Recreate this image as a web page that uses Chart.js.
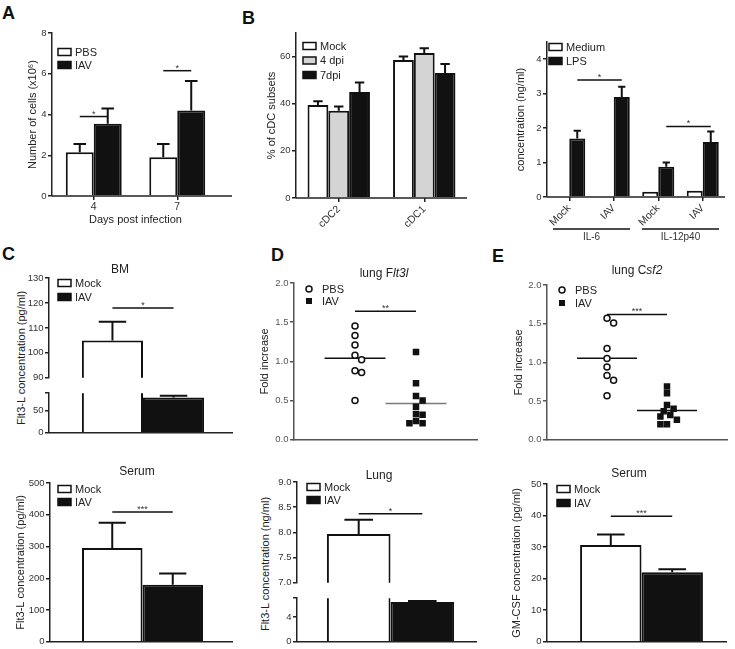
<!DOCTYPE html>
<html>
<head>
<meta charset="utf-8">
<script src="https://cdn.jsdelivr.net/npm/chart.js@4"></script>
<style>
  html, body { margin: 0; padding: 0; background: #fff; }
  body { position: relative; width: 735px; height: 649px; overflow: hidden; font-family: 'Liberation Sans', Arial, sans-serif; }
  canvas { position: absolute; }
  .tag { position: absolute; font-size: 18px; font-weight: bold; line-height: 18px; color: #111; }
  .vt { position: absolute; transform: translate(-50%, -50%) rotate(-90deg); white-space: nowrap; font-size: 11px; color: #222; }
</style>
</head>
<body>
<div class="tag" style="left:2px;top:4px">A</div>
<div class="tag" style="left:242px;top:9px">B</div>
<div class="tag" style="left:2px;top:245px">C</div>
<div class="tag" style="left:271px;top:246px">D</div>
<div class="tag" style="left:492px;top:247px">E</div>
<div class="vt" style="left:21px;top:358px">Flt3-L concentration (pg/ml)</div>
<div class="vt" style="left:265px;top:564px">Flt3-L concentration (ng/ml)</div>

<script>
// A: cell numbers
const daysA = ['4', '7'];
const pbsA = [2.15, 1.9];
const pbsErrA = [0.4, 0.65];
const iavA = [3.55, 4.2];
const iavErrA = [0.75, 1.45];
const ticksA = [0, 2, 4, 6, 8];

// B: cDC subsets
const subsetsB = ['cDC2', 'cDC1'];
const mockB = [39.5, 58.5];
const mockErrB = [1.5, 1.5];
const dpi4B = [37, 61.5];
const dpi4ErrB = [1.8, 2];
const dpi7B = [45, 53];
const dpi7ErrB = [4, 3.8];
const ticksBl = [0, 20, 40, 60];

// B: cytokines
const stimB = ['Mock', 'IAV', 'Mock', 'IAV'];
const cytokinesB = ['IL-6', 'IL-12p40'];
const mediumB = [0.02, 0.02, 0.15, 0.18];
const lpsB = [1.7, 2.9, 0.88, 1.6];
const lpsErrB = [0.22, 0.3, 0.12, 0.3];
const ticksBr = [0, 1, 2, 3, 4];

// C: Flt3-L BM and serum
const mockBM = [105];
const mockBMErr = [7.5];
const iavBM = [80];
const iavBMErr = [4];
const ticksBMUp = [90, 100, 110, 120, 130];
const ticksBMLow = [0, 50, 90];
const mockSerumF = [295];
const mockSerumFErr = [80];
const iavSerumF = [180];
const iavSerumFErr = [35];
const ticksSerumF = [0, 100, 200, 300, 400, 500];

// D: lung Flt3l mRNA and protein
const pbsFlt3l = [1.45, 1.33, 1.21, 1.08, 1.02, 0.88, 0.86, 0.50];
const iavFlt3l = [1.12, 0.72, 0.56, 0.50, 0.42, 0.33, 0.32, 0.24, 0.21, 0.21];
const ticksFold = [0, 0.5, 1, 1.5, 2];
const mockLung = [7.97];
const mockLungErr = [0.28];
const iavLung = [6.4];
const iavLungErr = [0.15];
const ticksLungUp = [7, 7.5, 8, 8.5, 9];
const ticksLungLow = [0, 4, 7];

// E: lung Csf2 mRNA and serum GM-CSF
const pbsCsf2 = [1.57, 1.51, 1.18, 1.05, 0.94, 0.83, 0.77, 0.57];
const iavCsf2 = [0.69, 0.60, 0.45, 0.40, 0.37, 0.32, 0.30, 0.26, 0.20, 0.20];
const mockGM = [30.7];
const mockGMErr = [3.3];
const iavGM = [22.0];
const iavGMErr = [1.0];
const ticksGM = [0, 10, 20, 30, 40, 50];

const FONT = "'Liberation Sans', Arial, sans-serif";
const BLACK = '#111';
const AXIS = '#222';

Chart.defaults.font.family = FONT;
Chart.defaults.font.size = 10;
Chart.defaults.color = '#333';
Chart.defaults.animation = false;
Chart.defaults.events = [];
Chart.defaults.plugins.legend.display = false;
Chart.defaults.plugins.tooltip.enabled = false;

// everything the library has no built-in for: error bars, stars, legend inside, titles
function decoPlugin(d, bl, bt) {
  return {
    id: 'deco',
    afterDatasetsDraw(chart) {
      const { ctx, chartArea: a } = chart;
      const xs = chart.scales.x, ys = chart.scales.y;
      ctx.save();

      if (d.xEnd) {
        ctx.strokeStyle = d.axisColor || AXIS;
        ctx.lineWidth = 1.5;
        ctx.beginPath();
        ctx.moveTo(a.left, a.bottom);
        ctx.lineTo(d.xEnd - bl, a.bottom);
        ctx.stroke();
      }

      ctx.save();
      ctx.beginPath();
      ctx.rect(a.left, a.top - 1, a.width, a.height + 1);
      ctx.clip();
      ctx.strokeStyle = BLACK;
      ctx.lineWidth = 2;
      chart.data.datasets.forEach((ds, di) => {
        if (!ds.errors) return;
        chart.getDatasetMeta(di).data.forEach((el, i) => {
          const e = ds.errors[i];
          if (!e) return;
          const top = ys.getPixelForValue(ds.data[i] + e);
          const half = el.width * 0.225;
          ctx.beginPath();
          ctx.moveTo(el.x, el.y);
          ctx.lineTo(el.x, top);
          ctx.moveTo(el.x - half, top);
          ctx.lineTo(el.x + half, top);
          ctx.stroke();
        });
      });
      ctx.restore();

      (d.sig || []).forEach(s => {
        const px = v => Array.isArray(v) ? chart.getDatasetMeta(v[0]).data[v[1]].x : xs.getPixelForValue(v);
        const x1 = px(s.from), x2 = px(s.to), y = ys.getPixelForValue(s.y);
        ctx.strokeStyle = BLACK;
        ctx.lineWidth = 1.5;
        ctx.beginPath();
        ctx.moveTo(x1, y);
        ctx.lineTo(x2, y);
        ctx.stroke();
        ctx.fillStyle = '#333';
        ctx.font = `9px ${FONT}`;
        ctx.textAlign = 'center';
        ctx.textBaseline = 'alphabetic';
        ctx.fillText(s.text, (x1 + x2) / 2, y);
      });

      if (d.groups) {
        const step = xs.getPixelForValue(1) - xs.getPixelForValue(0);
        ctx.strokeStyle = BLACK;
        ctx.lineWidth = 1.5;
        ctx.fillStyle = '#333';
        ctx.font = `10px ${FONT}`;
        ctx.textAlign = 'center';
        ctx.textBaseline = 'top';
        d.groups.forEach(g => {
          const x1 = xs.getPixelForValue(g.from) - step / 2 + 6;
          const x2 = xs.getPixelForValue(g.to) + step / 2 - 6;
          const gy = a.bottom + 32;
          ctx.beginPath();
          ctx.moveTo(x1, gy);
          ctx.lineTo(x2, gy);
          ctx.stroke();
          ctx.fillText(g.label, (x1 + x2) / 2, gy + 3);
        });
      }

      if (d.legend) {
        const L = d.legend;
        ctx.font = `11px ${FONT}`;
        ctx.textAlign = 'left';
        ctx.textBaseline = 'middle';
        chart.data.datasets.filter(ds => ds.label).forEach((ds, i) => {
          const x0 = a.left + L.x, cy = a.top + L.y + i * L.dy;
          let tx;
          ctx.lineWidth = 1.5;
          ctx.strokeStyle = BLACK;
          if (ds.pointStyle === 'circle') {
            ctx.beginPath();
            ctx.arc(x0, cy, 3, 0, Math.PI * 2);
            ctx.fillStyle = '#fff';
            ctx.fill();
            ctx.stroke();
            tx = x0 + 13;
          } else if (ds.pointStyle === 'rect') {
            ctx.fillStyle = BLACK;
            ctx.fillRect(x0 - 3, cy - 3, 6, 6);
            tx = x0 + 13;
          } else {
            ctx.fillStyle = ds.backgroundColor;
            ctx.fillRect(x0, cy - 3.5, 13, 7);
            ctx.strokeRect(x0, cy - 3.5, 13, 7);
            tx = x0 + 17;
          }
          ctx.fillStyle = '#222';
          ctx.fillText(ds.label, tx, cy + 0.5);
        });
      }

      if (d.title) {
        const parts = d.title.parts;
        const fonts = parts.map(p => (p.italic ? 'italic ' : '') + `12px ${FONT}`);
        ctx.textAlign = 'left';
        ctx.textBaseline = 'middle';
        ctx.fillStyle = '#222';
        let w = 0;
        parts.forEach((p, i) => { ctx.font = fonts[i]; w += ctx.measureText(p.text).width; });
        let x = d.title.x - bl - w / 2;
        parts.forEach((p, i) => {
          ctx.font = fonts[i];
          ctx.fillText(p.text, x, d.title.y - bt);
          x += ctx.measureText(p.text).width;
        });
      }
      ctx.restore();
    }
  };
}

// box = canvas [left, top, width, height], area = plot [left, top, right, bottom], page px
function place(box, area, cfg, deco) {
  const [bl, bt, bw, bh] = box;
  const [al, at, ar, ab] = area;
  const c = document.createElement('canvas');
  c.width = bw;
  c.height = bh;
  c.style.left = bl + 'px';
  c.style.top = bt + 'px';
  document.body.appendChild(c);
  const o = cfg.options;
  o.responsive = false;
  o.layout = { padding: { left: 0, top: at - bt, right: bl + bw - ar, bottom: 0 } };
  o.scales.x.afterFit = s => { s.height = bt + bh - ab; };
  o.scales.y.afterFit = s => { s.width = al - bl; };
  cfg.plugins = [decoPlugin(deco || {}, bl, bt)];
  return new Chart(c, cfg);
}

function yTitle(text, pageX, bl) {
  return { display: true, text, color: '#222', font: { size: 11 }, padding: { top: pageX - bl - 6.6, bottom: 0 } };
}

function yLin(min, max, vals, fmt, title, col) {
  return {
    min, max,
    afterBuildTicks: s => { s.ticks = vals.map(v => ({ value: v })); },
    ticks: { callback: fmt, font: { size: 9.5 }, color: col || '#333', padding: 1.5 },
    grid: { drawOnChartArea: false, drawTicks: true, tickLength: 4, color: col ? '#555' : AXIS, lineWidth: 1.5 },
    border: { display: true, color: col ? '#555' : AXIS, width: 1.5 },
    title: title || { display: false }
  };
}

const plain = v => v;
const oneDec = v => v.toFixed(1);
const breakTop = (v, i, arr) => (i === arr.length - 1 ? '' : v);

const xNone = () => ({ ticks: { display: false }, grid: { display: false }, border: { display: false } });
const xLabels = (rot, title) => ({
  ticks: { font: { size: 10.5 }, color: '#333', padding: 1, autoSkip: false, minRotation: rot, maxRotation: rot },
  grid: { drawOnChartArea: false, offset: false, tickLength: 4, color: AXIS, lineWidth: 1.5 },
  border: { display: false },
  title: title || { display: false }
});

const bar = (label, data, errors, fill) => ({
  label, data, errors, backgroundColor: fill, borderColor: BLACK, borderWidth: 2, clip: 0
});

// A
place([0, 20, 240, 210], [52, 33, 219, 196], {
  type: 'bar',
  data: { labels: daysA, datasets: [bar('PBS', pbsA, pbsErrA, '#fff'), bar('IAV', iavA, iavErrA, BLACK)] },
  options: {
    datasets: { bar: { categoryPercentage: 0.67, barPercentage: 1 } },
    scales: {
      x: xLabels(0, { display: true, text: 'Days post infection', color: '#222', font: { size: 11 }, padding: { top: 0, bottom: 3.4 } }),
      y: yLin(0, 8, ticksA, plain, yTitle('Number of cells (x10\u2076)', 33, 0))
    }
  }
}, {
  xEnd: 232,
  legend: { x: 6, y: 19, dy: 13 },
  sig: [{ from: [0, 0], to: [1, 0], y: 3.9, text: '*' }, { from: [0, 1], to: [1, 1], y: 6.15, text: '*' }]
});

// B left
place([240, 25, 240, 215], [296, 33, 467, 198], {
  type: 'bar',
  data: {
    labels: subsetsB,
    datasets: [bar('Mock', mockB, mockErrB, '#fff'), bar('4 dpi', dpi4B, dpi4ErrB, '#d4d4d4'), bar('7dpi', dpi7B, dpi7ErrB, BLACK)]
  },
  options: {
    datasets: { bar: { categoryPercentage: 0.73, barPercentage: 1 } },
    scales: { x: xLabels(45), y: yLin(0, 70, ticksBl, plain, yTitle('% of cDC subsets', 272, 240)) }
  }
}, { xEnd: 467, legend: { x: 7, y: 13, dy: 14.5 } });

// B right
place([492, 30, 243, 220], [547, 42, 725, 197], {
  type: 'bar',
  data: { labels: stimB, datasets: [bar('Medium', mediumB, null, '#fff'), bar('LPS', lpsB, lpsErrB, BLACK)] },
  options: {
    datasets: { bar: { categoryPercentage: 0.72, barPercentage: 1 } },
    scales: { x: xLabels(45), y: yLin(0, 4.5, ticksBr, plain, yTitle('concentration (ng/ml)', 521, 492)) }
  }
}, {
  xEnd: 725,
  legend: { x: 2, y: 5, dy: 14 },
  groups: cytokinesB.map((c, i) => ({ label: c, from: 2 * i, to: 2 * i + 1 })),
  sig: [{ from: [1, 0], to: [1, 1], y: 3.4, text: '*' }, { from: [1, 2], to: [1, 3], y: 2.05, text: '*' }]
});

// C BM, broken axis: upper and lower part
const bmSets = () => [bar('Mock', mockBM, mockBMErr, '#fff'), bar('IAV', iavBM, iavBMErr, BLACK)];
place([0, 255, 240, 130], [49, 278, 237, 384], {
  type: 'bar',
  data: { labels: ['BM'], datasets: bmSets() },
  options: {
    datasets: { bar: { categoryPercentage: 0.65, barPercentage: 1 } },
    scales: { x: xNone(), y: yLin(90, 130, ticksBMUp, plain) }
  }
}, {
  legend: { x: 9, y: 5, dy: 14 },
  title: { parts: [{ text: 'BM' }], x: 120, y: 270 },
  sig: [{ from: [0, 0], to: [1, 0], y: 118, text: '*' }]
});
place([0, 386, 240, 54], [49, 393, 237, 438], {
  type: 'bar',
  data: { labels: ['BM'], datasets: bmSets().map(d => Object.assign(d, { label: '' })) },
  options: {
    datasets: { bar: { categoryPercentage: 0.65, barPercentage: 1 } },
    scales: { x: xNone(), y: yLin(0, 90, ticksBMLow, breakTop) }
  }
}, { xEnd: 233 });

// C serum
place([0, 460, 240, 189], [50, 483, 235, 642], {
  type: 'bar',
  data: { labels: ['Serum'], datasets: [bar('Mock', mockSerumF, mockSerumFErr, '#fff'), bar('IAV', iavSerumF, iavSerumFErr, BLACK)] },
  options: {
    datasets: { bar: { categoryPercentage: 0.654, barPercentage: 1 } },
    scales: { x: xNone(), y: yLin(0, 500, ticksSerumF, plain, yTitle('Flt3-L concentration (pg/ml)', 21, 0)) }
  }
}, {
  xEnd: 233,
  legend: { x: 8, y: 6, dy: 13 },
  title: { parts: [{ text: 'Serum' }], x: 137, y: 472 },
  sig: [{ from: [0, 0], to: [1, 0], y: 409, text: '***' }]
});

// scatter helpers
const mean = a => a.reduce((s, v) => s + v, 0) / a.length;
function swarm(vals, center, pxX, pxY) {
  const placed = [], out = [];
  const s = 3.3, D = 6.2;
  const cands = [0, s, -s, 2 * s, -2 * s, 3 * s, -3 * s, 4 * s, -4 * s];
  vals.map((v, i) => i).sort((p, q) => vals[q] - vals[p]).forEach(i => {
    const y = vals[i] * pxY;
    const dx = cands.find(c => placed.every(p => Math.hypot(p.x - c, p.y - y) >= D)) || 0;
    placed.push({ x: dx, y });
    out[i] = { x: center + dx / pxX, y: vals[i] };
  });
  return out;
}
function scatterPanel(box, area, pbs, iav, iavLineCol, titleX, deco) {
  const pxX = (area[2] - area[0]) / 3, pxY = (area[3] - area[1]) / 2;
  const meanLine = (vals, c, col) => ({
    data: [{ x: c - 0.5, y: mean(vals) }, { x: c + 0.5, y: mean(vals) }],
    showLine: true, pointRadius: 0, borderColor: col, borderWidth: 1.5
  });
  place(box, area, {
    type: 'scatter',
    data: {
      datasets: [
        { label: 'PBS', data: swarm(pbs, 1, pxX, pxY), pointStyle: 'circle', pointRadius: 3, pointBorderWidth: 1.5,
          pointBackgroundColor: '#fff', pointBorderColor: BLACK },
        { label: 'IAV', data: swarm(iav, 2, pxX, pxY), pointStyle: 'rect', pointRadius: 4.6, pointBorderWidth: 0,
          pointBackgroundColor: BLACK, pointBorderColor: BLACK },
        meanLine(pbs, 1, BLACK),
        meanLine(iav, 2, iavLineCol)
      ]
    },
    options: {
      scales: {
        x: { type: 'linear', min: 0, max: 3, ticks: { display: false }, grid: { display: false },
             border: { display: true, color: '#555', width: 1.5 } },
        y: yLin(0, 2, ticksFold, oneDec, yTitle('Fold increase', titleX, box[0]), '#555')
      }
    }
  }, deco);
}

// D lung Flt3l
scatterPanel([240, 262, 245, 185], [294, 283, 477, 440], pbsFlt3l, iavFlt3l, '#7a7a7a', 265, {
  legend: { x: 15, y: 6, dy: 12 },
  title: { parts: [{ text: 'lung F' }, { text: 'lt3l', italic: true }], x: 384, y: 274 },
  sig: [{ from: 1, to: 2, y: 1.64, text: '**' }]
});

// E lung Csf2
scatterPanel([492, 262, 243, 185], [547, 285, 727, 440], pbsCsf2, iavCsf2, BLACK, 519, {
  legend: { x: 15, y: 5, dy: 13 },
  title: { parts: [{ text: 'lung C' }, { text: 'sf2', italic: true }], x: 637, y: 271 },
  sig: [{ from: 1, to: 2, y: 1.62, text: '***' }]
});

// D lung protein, broken axis
const lungSets = () => [bar('Mock', mockLung, mockLungErr, '#fff'), bar('IAV', iavLung, iavLungErr, BLACK)];
place([250, 462, 240, 128], [297, 482, 484, 589], {
  type: 'bar',
  data: { labels: ['Lung'], datasets: lungSets() },
  options: {
    datasets: { bar: { categoryPercentage: 0.68, barPercentage: 1 } },
    scales: { x: xNone(), y: yLin(7, 9, ticksLungUp, oneDec) }
  }
}, {
  legend: { x: 10, y: 5, dy: 13 },
  title: { parts: [{ text: 'Lung' }], x: 379, y: 476 },
  sig: [{ from: [0, 0], to: [1, 0], y: 8.37, text: '*' }]
});
place([250, 591, 240, 58], [297, 597, 484, 644], {
  type: 'bar',
  data: { labels: ['Lung'], datasets: lungSets().map(d => Object.assign(d, { label: '' })) },
  options: {
    datasets: { bar: { categoryPercentage: 0.68, barPercentage: 1 } },
    scales: { x: xNone(), y: yLin(0, 7, ticksLungLow, breakTop) }
  }
}, { xEnd: 477 });

// E serum GM-CSF
place([492, 462, 250, 187], [547, 484, 736, 645], {
  type: 'bar',
  data: { labels: ['Serum'], datasets: [bar('Mock', mockGM, mockGMErr, '#fff'), bar('IAV', iavGM, iavGMErr, BLACK)] },
  options: {
    datasets: { bar: { categoryPercentage: 0.65, barPercentage: 1 } },
    scales: { x: xNone(), y: yLin(0, 50, ticksGM, plain, yTitle('GM-CSF concentration (pg/ml)', 517, 492)) }
  }
}, {
  xEnd: 727,
  legend: { x: 10, y: 5, dy: 14 },
  title: { parts: [{ text: 'Serum' }], x: 629, y: 474 },
  sig: [{ from: [0, 0], to: [1, 0], y: 39.8, text: '***' }]
});
</script>
</body>
</html>
